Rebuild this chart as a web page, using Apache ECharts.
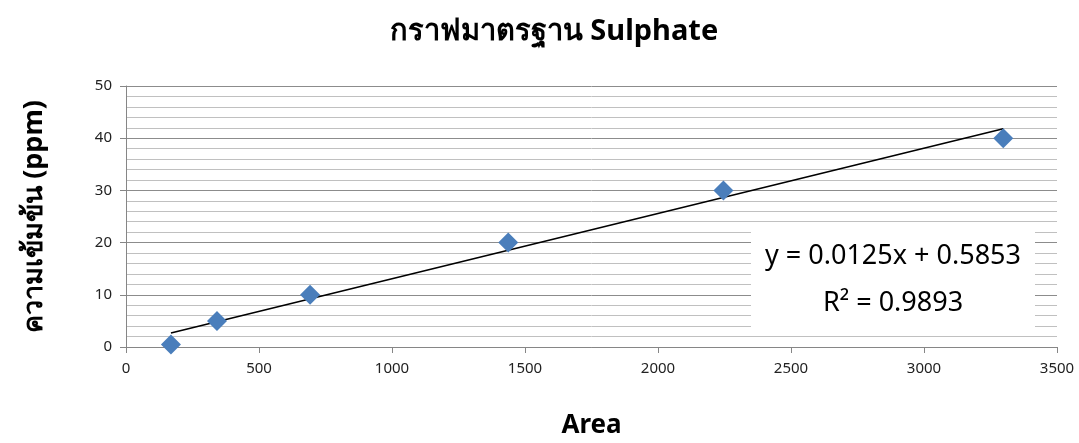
<!DOCTYPE html>
<html><head><meta charset="utf-8">
<script src="https://cdn.jsdelivr.net/npm/echarts@6/dist/echarts.min.js"></script>
<style>html,body{margin:0;padding:0;background:#fff}#c{width:1079px;height:443px}</style>
</head><body><div id="c"></div>
<script>
const areas = [169, 342, 692, 1437, 2246, 3298];
const concentrations = [0.5, 5, 10, 20, 30, 40];
const trendSlope = 0.0125;
const trendIntercept = 0.5853;
const r2Text = 'R² = 0.9893';
const eqText = 'y = 0.0125x + 0.5853';
const titleText = 'กราฟมาตรฐาน Sulphate';
const yTitle = 'ความเข้มข้น (ppm)';
const xTitle = 'Area';

const points = areas.map((a, i) => [a, concentrations[i]]);
const xMin = Math.min(...areas), xMax = Math.max(...areas);
const trend = [[xMin, trendSlope * xMin + trendIntercept], [xMax, trendSlope * xMax + trendIntercept]];

const chart = echarts.init(document.getElementById('c'));
const font = "Tahoma, 'Noto Sans', 'DejaVu Sans', sans-serif";
chart.setOption({
  animation: false,
  title: { text: titleText, left: 549, top: 12, textAlign: 'center',
    textStyle: { fontFamily: font, fontSize: 29, fontWeight: 'bold', color: '#000' } },
  grid: { left: 126, right: 22, top: 86, bottom: 96, outerBoundsMode: 'none', containLabel: false },
  xAxis: { type: 'value', min: 0, max: 3500, interval: 500,
    name: xTitle, nameLocation: 'middle', nameGap: 66,
    nameTextStyle: { fontFamily: font, fontSize: 26, fontWeight: 'bold', color: '#000' },
    axisLine: { show: true, lineStyle: { color: '#868686', width: 1 } },
    axisTick: { show: true, inside: false, length: 6, lineStyle: { color: '#868686' } },
    axisLabel: { fontFamily: font, fontSize: 15, color: '#222', margin: 14, formatter: v => String(v) },
    splitLine: { show: false } },
  yAxis: { type: 'value', min: 0, max: 50, interval: 10,
    name: yTitle, nameLocation: 'middle', nameGap: 78, nameRotate: 90,
    nameTextStyle: { fontFamily: font, fontSize: 27, fontWeight: 'bold', color: '#000' },
    axisLine: { show: true, lineStyle: { color: '#868686', width: 1 } },
    axisTick: { show: true, inside: false, length: 6, lineStyle: { color: '#868686' } },
    axisLabel: { fontFamily: font, fontSize: 15, color: '#222', margin: 14 },
    splitLine: { show: true, lineStyle: { color: '#8c8c8c', width: 1 } },
    minorTick: { show: false, splitNumber: 5 },
    minorSplitLine: { show: true, lineStyle: { color: '#c0c0c0', width: 1 } } },
  series: [
    { type: 'line', data: trend, symbol: 'none', silent: true,
      lineStyle: { color: '#000', width: 1.6 }, z: 3 },
    { type: 'scatter', data: points, symbol: 'diamond', symbolSize: 20,
      itemStyle: { color: '#4a7ebb', opacity: 1 }, z: 4 }
  ],
  graphic: [
    { type: 'rect', left: 751, top: 224, shape: { width: 284, height: 110 },
      style: { fill: '#fff' }, z: 10 },
    { type: 'text', x: 893, y: 243, z: 11,
      style: { text: eqText, textAlign: 'center', fontFamily: font, fontSize: 27, fill: '#000' } },
    { type: 'text', x: 893, y: 290, z: 11,
      style: { text: r2Text, textAlign: 'center', fontFamily: font, fontSize: 27, fill: '#000' } }
  ]
});
</script></body></html>
